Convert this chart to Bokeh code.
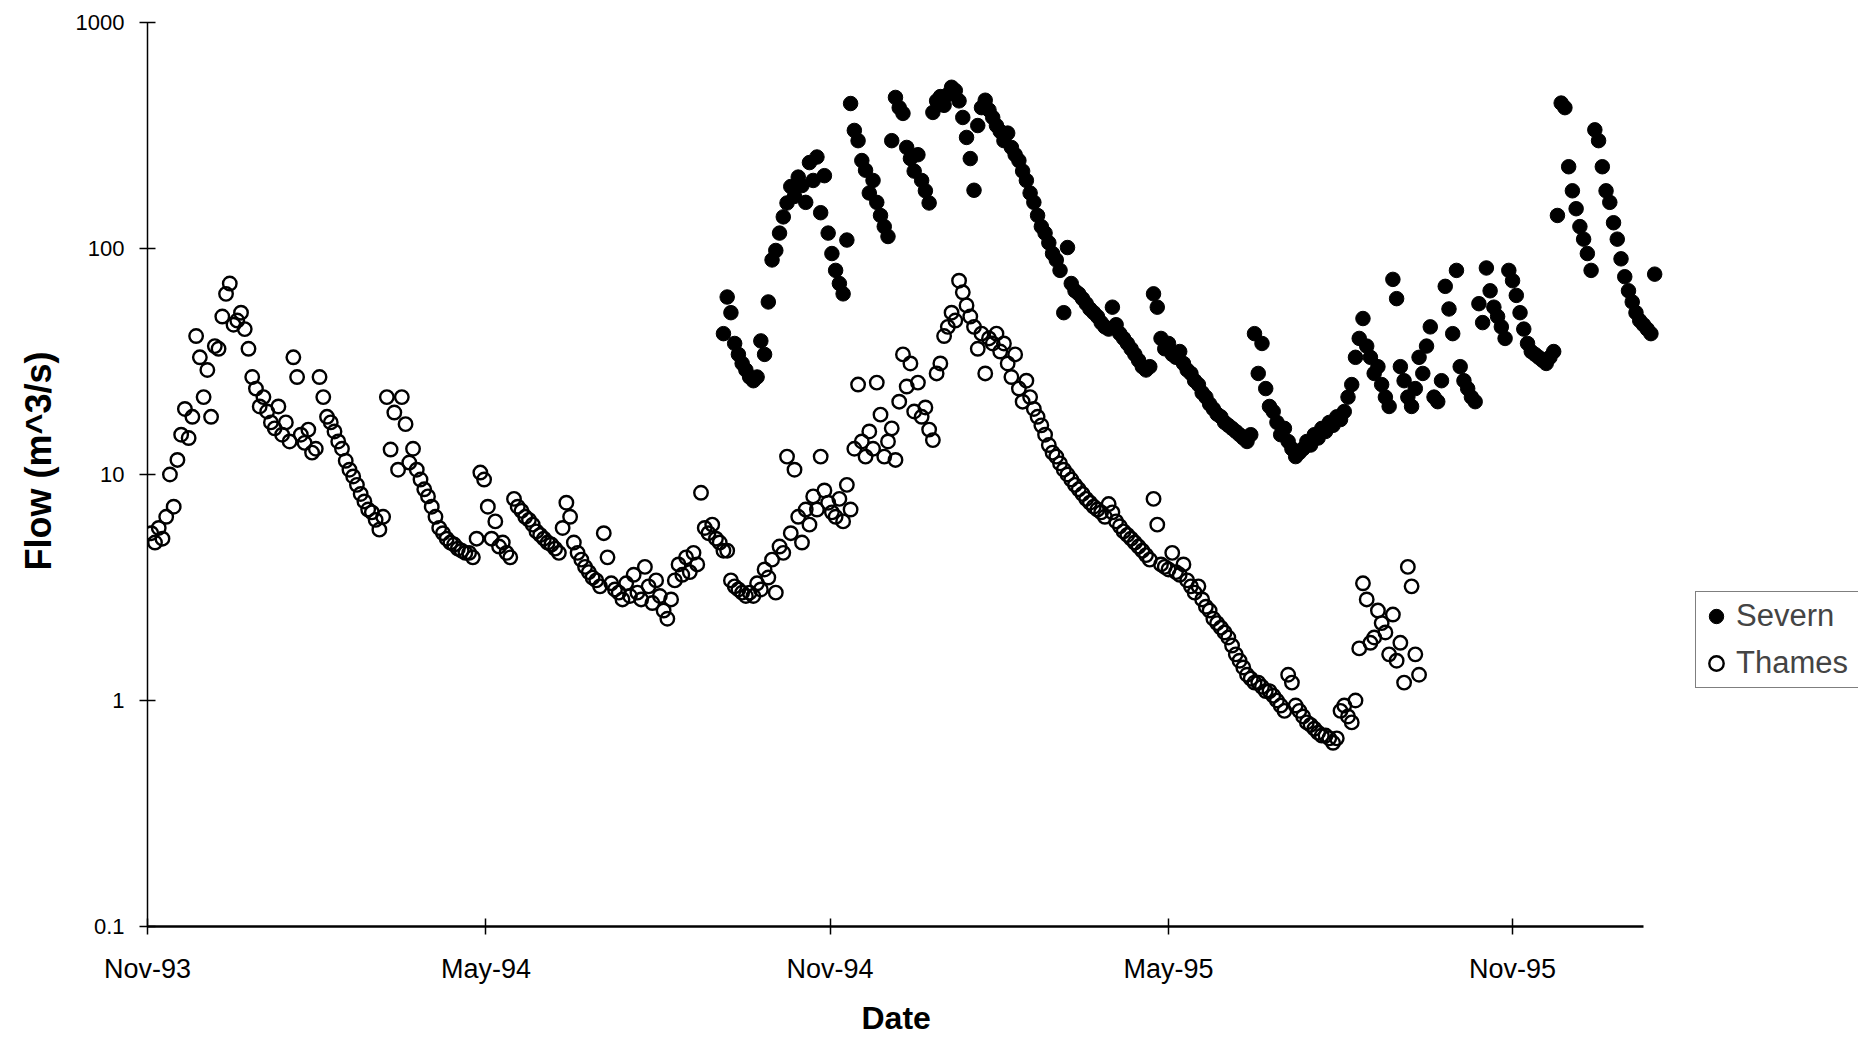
import pandas as pd
from bokeh.plotting import figure
from bokeh.models import (FixedTicker, DatetimeTickFormatter, CustomJSTickFormatter,
                          Legend, LegendItem, Range1d, ColumnDataSource, Title)
from bokeh.embed import file_html
from bokeh.resources import INLINE

# ---------------- data ----------------
thames_start = "1993-11-03"
severn_start = "1994-09-05"
step_days = 2

thames_flow = [
    5.5, 5.0, 5.8, 5.2, 6.5, 10.0, 7.2, 11.6, 15.0, 19.5, 14.5,
    18, 41, 33, 22, 29, 18, 37, 36, 50, 63,
    70, 46, 48, 52, 44, 36, 27, 24, 20, 22, 19,
    17, 16, 20, 15, 17, 14, 33, 27, 15, 13.8, 15.8, 12.5, 13,
    27, 22, 18, 17, 15.5, 14, 13, 11.5, 10.5, 9.8, 9, 8.2, 7.6, 7, 6.8, 6.3, 5.7, 6.5,
    22, 12.9, 18.8, 10.5, 22, 16.7, 11.3, 13, 10.5, 9.5, 8.6, 8, 7.2, 6.5, 5.8, 5.5,
    5.2, 5.0, 4.9, 4.7, 4.6, 4.5, 4.5, 4.3, 5.2,
    10.2, 9.5, 7.2, 5.2, 6.2, 4.8, 5.0, 4.5, 4.3, 7.8, 7.2, 6.9, 6.5, 6.3, 6.0, 5.6,
    5.4, 5.2, 5.0, 4.9, 4.7, 4.5, 5.8, 7.5, 6.5, 5.0, 4.5, 4.2, 3.9, 3.7, 3.5, 3.4,
    3.2, 5.5, 4.3, 3.3, 3.1, 3.0, 2.8,
    3.3, 2.9, 3.6, 3.0, 2.8, 3.9, 3.2, 2.7, 3.4, 2.9, 2.5, 2.3, 2.8, 3.4, 4.0, 3.6,
    4.3, 3.7, 4.5, 4.0, 8.3, 5.8, 5.5, 6.0, 5.2, 5.0, 4.6, 4.6,
    3.4, 3.2, 3.1, 3.0, 2.9, 3.0, 2.9, 3.3, 3.1, 3.8, 3.5, 4.2, 3.0, 4.8, 4.5,
    12.0, 5.5, 10.5, 6.5, 5.0, 7.0, 6.0, 8.0, 7.0, 12.0, 8.5, 7.5, 6.8, 6.5, 7.8, 6.2, 9.0, 7.0,
    13.0, 25.0, 14.0, 12.0, 15.5, 13.0, 25.5, 18.4, 12.0, 14.0, 16.0, 11.6, 21.0, 34.0,
    24.5, 31.0, 19.0, 25.5, 18.0, 19.8, 15.8, 14.2, 28.0, 31.0, 41.0, 45.0, 52.0, 48.0,
    72.0, 64.0, 56.0, 50.0, 45.0, 36.0, 42.0, 28.0, 40.0, 38.0, 42.0, 35.0, 38.0, 31.0,
    27.0, 34.0, 24.0, 21.0, 26.0, 22.0, 19.5, 18.0, 16.5, 15.0, 13.5, 12.5,
    12.0, 11.2, 10.5, 10.0, 9.5, 9.0, 8.6, 8.2, 7.8, 7.5, 7.2, 7.0, 6.8, 6.5, 7.4, 6.8,
    6.2, 5.9, 5.6, 5.4, 5.2, 5.0, 4.8, 4.6, 4.4, 4.2, 7.8, 6.0, 4.0, 3.9, 3.8,
    4.5, 3.7, 3.6, 4.0, 3.4, 3.2, 3.0, 3.2, 2.8, 2.6, 2.5, 2.3, 2.2, 2.1, 2.0, 1.9,
    1.75, 1.6, 1.5, 1.4, 1.3, 1.25, 1.2, 1.2, 1.15, 1.1, 1.1, 1.05, 1.0, 0.95, 0.9, 1.3,
    1.2, 0.95, 0.9, 0.85, 0.8, 0.78, 0.75, 0.72, 0.7, 0.7, 0.68, 0.65, 0.68, 0.9, 0.95,
    0.85, 0.8, 1.0, 1.7,
    3.3, 2.8, 1.8, 1.9, 2.5, 2.2, 2.0, 1.6, 2.4, 1.5, 1.8, 1.2, 3.9, 3.2, 1.6, 1.3,
]

severn_flow = [
    42, 61, 52, 38, 34, 31, 29, 27, 26, 27, 39, 34, 58, 89, 98, 117, 138, 159, 188, 170,
    207, 190, 160, 240, 200, 254, 144, 210, 117, 95, 80, 70, 63, 109,
    438, 333, 300, 245, 222, 176, 200, 160, 140, 125, 113, 300, 466, 420, 396, 280,
    250, 220, 260, 200, 180, 159, 400, 450, 470, 430, 480, 517, 500, 450, 380, 310, 250, 181,
    350, 420, 453, 410, 380, 350, 330, 300, 324, 280, 260, 245, 220, 200, 176, 160,
    140, 125, 117, 106, 95, 89, 80, 52, 101, 70, 65, 63, 60, 57, 54, 52, 50, 47, 45, 44,
    55, 46, 42, 40, 38, 36, 34, 32, 30, 29, 30, 63, 55,
    40, 36, 38, 34, 33, 35, 31, 29, 28, 26, 25, 23, 22, 20.5, 19.5, 18.5, 18, 17, 16.5, 16,
    15.5, 15, 14.5, 14, 15, 42, 28, 38, 24, 20, 19, 17, 15, 16, 14, 13, 12, 12.5, 13, 14,
    13.5, 15, 14.5, 16, 15.5, 17, 16.5, 18, 17.5, 19,
    22, 25, 33, 40, 49, 37, 33, 28, 30, 25, 22, 20, 73, 60, 30, 26, 22, 20, 24, 33,
    28, 37, 45, 22, 21, 26, 68, 54, 42, 80, 30, 26, 24, 22, 21, 57, 47, 82, 65, 55,
    50, 45, 40, 80, 72, 62, 52, 44, 38, 35,
    34, 33, 32, 31, 33, 35, 140, 440, 420, 230, 180, 150, 125, 110, 95, 80, 335, 300,
    230, 180, 160, 130, 110, 90, 75, 65, 58, 52, 48, 46, 44, 42, 77,
]

x_tick_dates = ["1993-11-01", "1994-05-01", "1994-11-01", "1995-05-01", "1995-11-01"]
x_start, x_axis_end, x_view_end = "1993-11-01", "1996-01-10", "1996-05-04"
y_ticks = [0.1, 1, 10, 100, 1000]
series_names = ["Severn", "Thames"]
x_title, y_title = "Date", "Flow (m^3/s)"

# ---------------- figure ----------------
thames_src = ColumnDataSource(dict(
    date=pd.date_range(thames_start, periods=len(thames_flow), freq=f"{step_days}D"),
    flow=thames_flow))
severn_src = ColumnDataSource(dict(
    date=pd.date_range(severn_start, periods=len(severn_flow), freq=f"{step_days}D"),
    flow=severn_flow))

W, H = 1858, 1047
LEFT, TOP, BOTTOM, RIGHT = 147, 22, 119, 0

p = figure(width=W, height=H, x_axis_type="datetime", y_axis_type="log",
           x_range=Range1d(pd.Timestamp(x_start), pd.Timestamp(x_view_end)),
           y_range=Range1d(0.1, 1000),
           output_backend="svg", toolbar_location=None,
           min_border_left=LEFT, min_border_right=RIGHT, min_border_top=TOP,
           min_border_bottom=BOTTOM, background_fill_color="white",
           border_fill_color="white")

p.xgrid.visible = False
p.ygrid.visible = False
p.outline_line_color = None

sev = p.scatter("date", "flow", source=severn_src, marker="circle", size=14.5,
                fill_color="black", line_color="black", line_width=1)
tha = p.scatter("date", "flow", source=thames_src, marker="circle", size=13.5,
                fill_color=None, line_color="black", line_width=2.4)

FONT = "Liberation Sans"

xa = p.xaxis[0]
xa.ticker = FixedTicker(ticks=[pd.Timestamp(d).value // 10**6 for d in x_tick_dates],
                        minor_ticks=[])
xa.bounds = (pd.Timestamp(x_start), pd.Timestamp(x_axis_end))
fmt = "%b-%y"
xa.formatter = DatetimeTickFormatter(days=fmt, months=fmt, years=fmt, hours=fmt,
                                     hourmin=fmt, minutes=fmt, minsec=fmt, seconds=fmt,
                                     milliseconds=fmt, microseconds=fmt)
xa.axis_line_width = 2.5
xa.major_label_text_font_size = "27px"
xa.major_label_standoff = 19

ya = p.yaxis[0]
ya.ticker = FixedTicker(ticks=y_ticks, minor_ticks=[])
ya.formatter = CustomJSTickFormatter(code="return tick < 1 ? tick.toFixed(1) : tick.toFixed(0);")
ya.axis_line_width = 1.5
ya.major_label_text_font_size = "22px"
ya.major_label_standoff = 15

for ax in (xa, ya):
    ax.major_tick_in = 8
    ax.major_tick_out = 8
    ax.minor_tick_in = 0
    ax.minor_tick_out = 0
    ax.major_tick_line_width = 1.5
    ax.axis_line_color = "black"
    ax.major_tick_line_color = "black"
    ax.major_label_text_color = "black"
    ax.major_label_text_font = FONT

# axis titles, placed like the reference (x title centred under the drawn axis,
# y title a little above the frame's middle)
p.add_layout(Title(text=x_title, align="left", offset=714, standoff=23,
                   text_font=FONT, text_font_size="32px", text_font_style="bold",
                   text_color="black"), "below")
p.add_layout(Title(text=y_title, align="left", offset=356, standoff=27,
                   text_font=FONT, text_font_size="36px", text_font_style="bold",
                   text_color="black"), "left")

legend = Legend(items=[LegendItem(label=series_names[0], renderers=[sev]),
                       LegendItem(label=series_names[1], renderers=[tha])],
                location=(1548, 238), margin=0, padding=2, spacing=3,
                glyph_width=36, glyph_height=44, label_standoff=2,
                label_width=120, label_height=44,
                label_text_font=FONT, label_text_font_size="31px",
                border_line_color="black", border_line_width=1.5,
                background_fill_color="white", background_fill_alpha=1.0)
p.add_layout(legend, "center")

open("out.html", "w").write(file_html(p, INLINE))
